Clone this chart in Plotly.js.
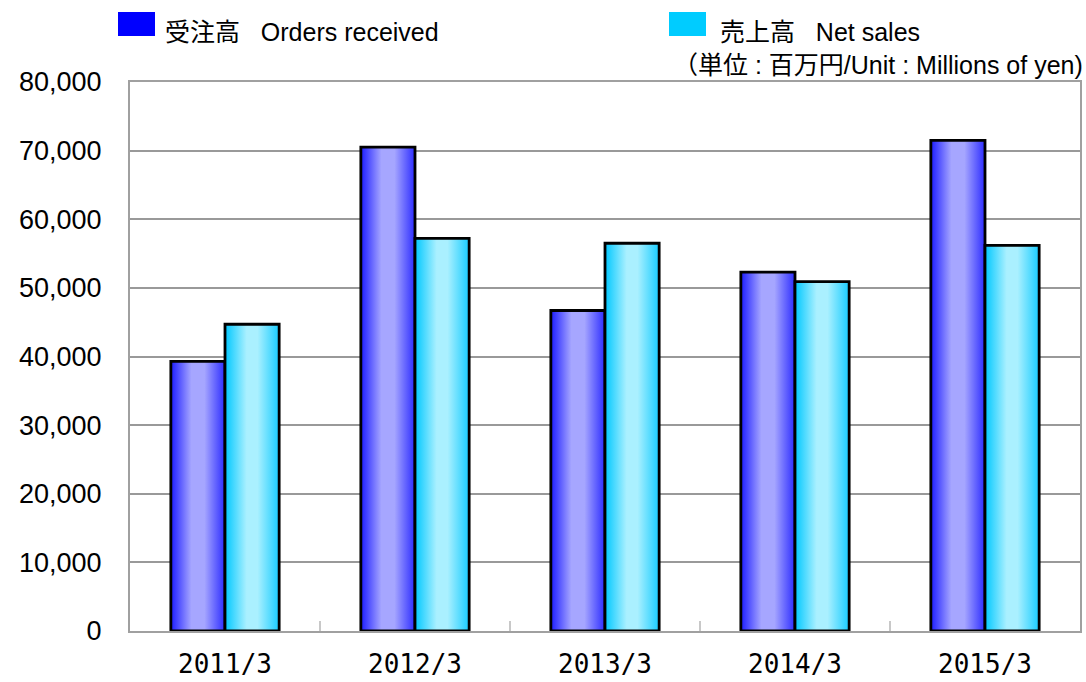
<!DOCTYPE html>
<html>
<head>
<meta charset="utf-8">
<script src="https://cdn.plot.ly/plotly-3.0.1.min.js"></script>
<style>
html,body{margin:0;padding:0;background:#fff;}
#chart{width:1086px;height:682px;}
</style>
</head>
<body>
<div id="chart"></div>
<script>
const categories = ["2011/3", "2012/3", "2013/3", "2014/3", "2015/3"];
const ordersReceived = [39300, 70500, 46700, 52300, 71500];
const netSales = [44700, 57200, 56500, 50900, 56200];
const seriesNames = ["受注高\u00a0\u00a0 Orders received", "売上高\u00a0\u00a0 Net sales"];
const unitText = "（単位 : 百万円/Unit : Millions of yen)";
const yTickVals = [0, 10000, 20000, 30000, 40000, 50000, 60000, 70000, 80000];
const yTickText = ["0", "10,000", "20,000", "30,000", "40,000", "50,000", "60,000", "70,000", "80,000"];

const fontLatinCJK = "Liberation Sans, Arial, Noto Sans CJK JP, sans-serif";

const traces = [
  {type: "bar", name: seriesNames[0], x: categories, y: ordersReceived,
   marker: {color: "#4a4aff", line: {color: "#000", width: 2.8}}, hoverinfo: "none"},
  {type: "bar", name: seriesNames[1], x: categories, y: netSales,
   marker: {color: "#40d8ff", line: {color: "#000", width: 2.8}}, hoverinfo: "none"}
];

const layout = {
  width: 1086, height: 682,
  margin: {l: 130, r: 6, t: 82, b: 51},
  paper_bgcolor: "#fff", plot_bgcolor: "#fff",
  showlegend: false,
  barmode: "group", bargap: 0.43, bargroupgap: 0,
  xaxis: {
    type: "category",
    showline: true, linecolor: "#a0a0a0", linewidth: 2, mirror: true,
    ticks: "inside", tickson: "boundaries", ticklen: 10, tickcolor: "#c8c8c8", tickwidth: 2,
    showgrid: false,
    tickfont: {family: "DejaVu Sans Mono, Liberation Mono, monospace", size: 26, color: "#000"},
    ticklabelstandoff: 9
  },
  yaxis: {
    range: [0, 80000],
    tickvals: yTickVals, ticktext: yTickText,
    showline: true, linecolor: "#a0a0a0", linewidth: 2, mirror: true,
    showgrid: true, gridcolor: "#999", gridwidth: 2,
    zeroline: false,
    ticks: "", ticklabelstandoff: 21,
    tickfont: {family: "Liberation Sans, Arial, sans-serif", size: 27, color: "#000"}
  },
  shapes: [
    {type: "rect", xref: "paper", yref: "paper", x0: -12/950, x1: 25/950, y0: 1 + 46/549, y1: 1 + 70/549,
     fillcolor: "#0000ff", line: {width: 0}},
    {type: "rect", xref: "paper", yref: "paper", x0: 539/950, x1: 576/950, y0: 1 + 46/549, y1: 1 + 70/549,
     fillcolor: "#00ccff", line: {width: 0}}
  ],
  annotations: [
    {xref: "paper", yref: "paper", x: 33/950, y: 1 + 50/549, xanchor: "left", yanchor: "middle",
     text: seriesNames[0], showarrow: false, font: {family: fontLatinCJK, size: 25, color: "#000"}},
    {xref: "paper", yref: "paper", x: 588/950, y: 1 + 50/549, xanchor: "left", yanchor: "middle",
     text: seriesNames[1], showarrow: false, font: {family: fontLatinCJK, size: 25, color: "#000"}},
    {xref: "paper", yref: "paper", x: 1 + 5/950, y: 1 + 17/549, xanchor: "right", yanchor: "middle",
     text: unitText, showarrow: false, font: {family: fontLatinCJK, size: 25, color: "#000"}}
  ]
};

function addGradients(gd) {
  const svg = gd.querySelector("svg.main-svg");
  const ns = "http://www.w3.org/2000/svg";
  let defs = svg.querySelector("defs");
  if (!defs) { defs = document.createElementNS(ns, "defs"); svg.insertBefore(defs, svg.firstChild); }
  const grads = [
    {id: "gradOrders", stops: [[0, "#1c1cff"], [0.38, "#a6a6ff"], [0.62, "#a6a6ff"], [1, "#2c2cff"]]},
    {id: "gradSales", stops: [[0, "#00c8ff"], [0.4, "#aaf0ff"], [0.6, "#aaf0ff"], [1, "#18ccff"]]}
  ];
  grads.forEach(g => {
    const lg = document.createElementNS(ns, "linearGradient");
    lg.setAttribute("id", g.id);
    lg.setAttribute("x1", "0"); lg.setAttribute("y1", "0");
    lg.setAttribute("x2", "1"); lg.setAttribute("y2", "0");
    g.stops.forEach(s => {
      const st = document.createElementNS(ns, "stop");
      st.setAttribute("offset", s[0]);
      st.setAttribute("stop-color", s[1]);
      lg.appendChild(st);
    });
    defs.appendChild(lg);
  });
  const traceGroups = gd.querySelectorAll("g.trace.bars");
  traceGroups.forEach((tg, i) => {
    tg.querySelectorAll("path").forEach(p => {
      p.style.fill = "url(#" + grads[i].id + ")";
    });
  });
}

const gd = document.getElementById("chart");
Plotly.newPlot(gd, traces, layout, {staticPlot: true, displayModeBar: false}).then(addGradients);
</script>
</body>
</html>
